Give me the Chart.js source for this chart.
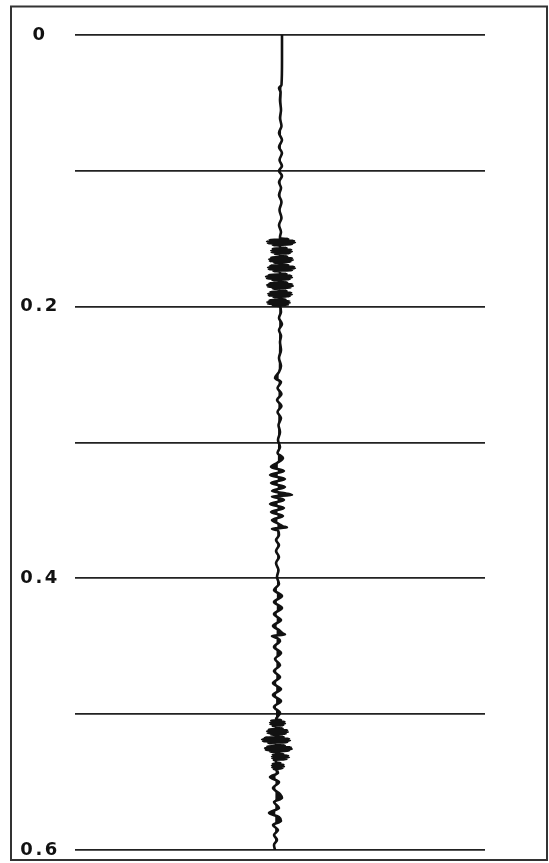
<!DOCTYPE html>
<html><head><meta charset="utf-8">
<script src="https://cdn.jsdelivr.net/npm/chart.js@4.4.1/dist/chart.umd.min.js"></script>
<style>html,body{margin:0;padding:0;background:#fff;} #wrap{position:relative;width:549px;height:863px;}</style>
</head><body><div id="wrap"><canvas id="c" width="549" height="863"></canvas></div>
<script>
// two-way time (ms) and trace amplitude (arbitrary units) read from the record
const timeMs = [
  0, 18.4, 36.8, 39.0, 42.0, 47.9, 55.2, 61.1, 67.0, 72.1, 77.3, 82.5, 86.9, 92.0, 96.4,
  100.1, 103.8, 108.2, 112.6, 117.8, 122.9, 128.8, 134.7, 139.9, 145.0, 148.7,
  149.8, 150.2, 150.8, 151.4, 152.1, 152.7, 153.4, 154.0, 154.6, 155.0,
  156.4, 156.8, 157.4, 158.0, 158.7, 159.3, 160.0, 160.6, 161.2, 161.6,
  162.7, 163.1, 163.7, 164.3, 165.0, 165.6, 166.3, 166.9, 167.5, 167.9,
  168.9, 169.3, 169.9, 170.5, 171.2, 171.8, 172.5, 173.1, 173.7, 174.1,
  175.6, 176.0, 176.6, 177.2, 177.9, 178.5, 179.2, 179.8, 180.4, 180.8,
  181.8, 182.2, 182.8, 183.4, 184.1, 184.7, 185.4, 186.0, 186.6, 187.0,
  188.1, 188.5, 189.1, 189.7, 190.4, 191.0, 191.7, 192.3, 192.9, 193.3,
  194.3, 194.7, 195.3, 195.9, 196.6, 197.2, 197.9, 198.5, 199.1, 199.5,
  203.9, 208.3, 212.8, 217.2, 221.6, 226.0, 231.9, 237.8, 243.7, 248.1, 252.5, 255.5,
  259.9, 264.3, 268.7, 273.1, 277.5, 282.0, 287.1, 292.3, 298.2,
  303.3, 307.7, 311.4, 315.1, 318.0, 321.0, 323.9, 326.9, 329.8, 332.8, 335.7,
  337.5, 338.7, 339.8, 340.9, 342.3, 345.3, 348.2, 351.2, 354.1, 357.1, 360.0,
  361.8, 362.6, 363.5, 364.8, 368.1, 371.8, 375.5, 379.9, 384.3, 388.7, 393.9, 399.0,
  404.2, 408.6, 413.0, 417.4, 421.8, 426.3, 430.7, 435.1, 438.0, 440.6, 441.4, 442.5, 443.9,
  446.1, 450.5, 455.0, 459.4, 463.8, 468.2, 472.6, 477.1, 481.5, 485.9, 490.3, 494.7, 499.1,
  503.9, 504.3, 504.9, 505.5, 506.2, 506.8, 507.5, 508.1, 508.7, 509.1,
  510.2, 510.6, 511.2, 511.8, 512.5, 513.1, 513.8, 514.4, 515.0, 515.4,
  516.4, 516.8, 517.4, 518.0, 518.7, 519.3, 520.0, 520.6, 521.2, 521.6,
  522.7, 523.1, 523.7, 524.3, 525.0, 525.6, 526.3, 526.9, 527.5, 527.9,
  528.9, 529.3, 529.9, 530.5, 531.2, 531.8, 532.5, 533.1, 533.7, 534.1,
  535.6, 536.0, 536.6, 537.2, 537.9, 538.5, 539.2, 539.8, 540.4, 540.8,
  543.3, 546.3, 549.9, 554.4, 558.8, 561.7, 564.7, 569.1, 572.8, 575.7, 578.7, 581.6,
  585.3, 589.0, 592.6, 596.3, 600.0
];
const amplitude = [
  2, 2, 1.5, -1, 0.5, 0, 1, 0, 1.5, -1, 2, -1, 2, -0.5, 2,
  -1, 2, -1, 1, -1, 1.5, -0.5, 1.5, -1, 1, 0,
  0, 8.3, -10.4, 14, -12.9, 14.9, -12.1, 12, -7.2, 0,
  0, 6.6, -7.2, 11.2, -8.9, 11.9, -8.4, 9.6, -5, 0,
  0, 7.2, -8.8, 12.1, -10.9, 12.9, -10.2, 10.4, -6.1, 0,
  0, 8.3, -9.6, 14, -11.9, 14.9, -11.2, 12, -6.6, 0,
  0, 6.6, -11.2, 11.2, -13.9, 11.9, -13, 9.6, -7.7, 0,
  0, 7.2, -10.4, 12.1, -12.9, 12.9, -12.1, 10.4, -7.2, 0,
  0, 6.6, -9.6, 11.2, -11.9, 11.9, -11.2, 9.6, -6.6, 0,
  0, 5.5, -10.4, 9.3, -12.9, 9.9, -12.1, 8, -7.2, 0,
  1, -1, 2, -1, 1, 0, 1, -1, 1, -1, -5, 1,
  -2.5, 1.5, -3, 1.5, -2.5, 1, -1.5, 0, -2,
  0, -2.5, 3, -3, -9, 4, -10, 5, -9, 5, -8,
  6, 12, -8, -2, 4, -10, 4, -9, 3, -8, -1,
  3, 7, -8, -2, -1, -4, -1, -4, -1, -4, -1.5, -3,
  -1, -6, 2, -6, 2, -6, 1, -7, -1, 3, 5, -8, -3,
  0, -6, 1, -5, 0, -6, 0, -7, 1, -7, 1, -6, 0,
  -4, 1, -8.8, 4.4, -9.9, 4.9, -9.6, 3.2, -7.3, -4,
  -4, 2.6, -11.2, 7.2, -12.9, 7.9, -12.4, 5.6, -9, -4,
  -4, 3.7, -15.2, 9, -17.9, 9.9, -17, 7.2, -11.7, -4,
  -4, 4.8, -12.8, 10.9, -14.9, 11.8, -14.2, 8.8, -10, -4,
  -4, 3.2, -7.2, 8.1, -8, 8.9, -7.7, 6.4, -6.2, -4,
  -4, 0.4, -7.2, 3.4, -8, 3.9, -7.7, 2.4, -6.2, -4,
  -2, -10, -1, -7, 0, 2, -6, -1, -11, -1, 1, -7,
  -2, -6, -3, -6, -5
];
// slowly drifting zero line of the trace
const baseTimeMs = [0, 150, 300, 400, 500, 600];
const baseAmp = [2, 0, -2, -3, -4, -5];
// axis
const gridStepsMs = [0, 100, 200, 300, 400, 500, 600];
const tickValuesMs = [0, 200, 400, 600];
const tickLabels = ['0', '0.2', '0.4', '0.6'];

const frame = {
  id: 'frame',
  beforeDraw(chart) {
    const ctx = chart.ctx;
    ctx.letterSpacing = '2.5px';
    ctx.save();
    ctx.strokeStyle = '#333';
    ctx.lineWidth = 2;
    ctx.strokeRect(11, 6.5, 536, 853.5);
    ctx.restore();
  }
};

new Chart(document.getElementById('c'), {
  type: 'line',
  data: {
    datasets: [
      {
        data: baseTimeMs.map((t, i) => ({ x: baseAmp[i], y: t })),
        borderWidth: 0, pointRadius: 0, fill: false, borderColor: 'rgba(0,0,0,0)'
      },
      {
        data: timeMs.map((t, i) => ({ x: amplitude[i], y: t })),
        borderColor: '#111', borderWidth: 2.6, pointRadius: 0,
        borderJoinStyle: 'round', borderCapStyle: 'round',
        backgroundColor: '#111', fill: { target: 0 },
        cubicInterpolationMode: 'monotone'
      }
    ]
  },
  options: {
    indexAxis: 'y',
    responsive: false,
    animation: false,
    events: [],
    layout: { padding: { left: 0, top: 35, right: 64, bottom: 13 } },
    plugins: { legend: { display: false }, tooltip: { enabled: false } },
    scales: {
      x: { type: 'linear', min: -205, max: 205, display: false },
      y: {
        type: 'linear', reverse: true, min: 0, max: 600,
        afterFit(s) { s.width = 75; s.paddingTop = 0; s.paddingBottom = 0; },
        afterBuildTicks(s) { s.ticks = gridStepsMs.map(v => ({ value: v })); },
        ticks: {
          autoSkip: false,
          callback(v) { const i = tickValuesMs.indexOf(v); return i >= 0 ? tickLabels[i] : ''; },
          crossAlign: 'center', padding: 19, color: '#111',
          font: { family: 'DejaVu Sans', size: 18, weight: 'bold' }
        },
        grid: { color: '#222', lineWidth: 1.8, drawTicks: false },
        border: { display: false }
      }
    }
  },
  plugins: [frame]
});
</script>
</body></html>
